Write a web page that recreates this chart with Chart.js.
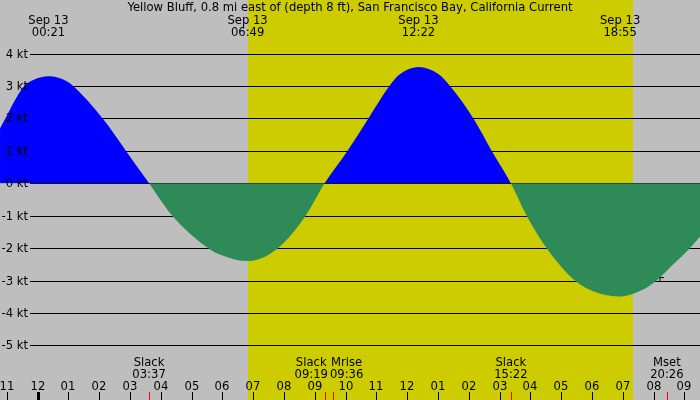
<!DOCTYPE html>
<html>
<head>
<meta charset="utf-8">
<script src="https://cdn.jsdelivr.net/npm/chart.js@4/dist/chart.umd.min.js"></script>
<style>
  html, body { margin: 0; padding: 0; background: #bebebe; }
  #wrap { width: 700px; height: 400px; }
</style>
</head>
<body>
<div id="wrap"><canvas id="grafico" width="700" height="400"></canvas></div>
<script>
// current speed (kt), time in hours since midnight Sep 13
const curveTimes = [
  -1.224, -0.44, -0.143, 0.36, 0.942, 1.156, 2.11, 2.868, 3.617,
  4.37, 5.54, 5.98, 6.817, 7.8, 8.70, 9.317,
  10.06, 10.74, 11.42, 11.77, 12.38, 13.01, 13.39, 14.15, 14.745, 15.367,
  15.88, 16.53, 17.45, 18.04, 18.85, 19.72, 20.10, 20.64, 21.18, 21.51,
];
const curveValues = [
  1.69, 3.0, 3.19, 3.3, 3.15, 3.0, 2.0, 1.0, 0,
  -1.0, -2.0, -2.22, -2.40, -2.0, -1.0, 0,
  1.0, 2.0, 3.0, 3.37, 3.59, 3.37, 3.0, 2.0, 1.0, 0,
  -1.0, -2.0, -3.0, -3.33, -3.49, -3.25, -3.0, -2.5, -2.0, -1.64,
];

const yTicks = [4, 3, 2, 1, 0, -1, -2, -3, -4, -5];
const hourTicks = [-1, 0, 1, 2, 3, 4, 5, 6, 7, 8, 9, 10, 11, 12, 13, 14, 15, 16, 17, 18, 19, 20, 21];
const hourLabels = ["11", "12", "01", "02", "03", "04", "05", "06", "07", "08", "09", "10", "11", "12", "01", "02", "03", "04", "05", "06", "07", "08", "09"];

const titulo = "Yellow Bluff, 0.8 mi east of (depth 8 ft), San Francisco Bay, California Current";
const topDate = "Sep 13";
const topTimes = ["00:21", "06:49", "12:22", "18:55"];
const bottomNames = ["Slack", "Slack", "Mrise", "Slack", "Mset"];
const bottomTimes = ["03:37", "09:19", "09:36", "15:22", "20:26"];

const sunrise = 6.83;
const sunset = 19.33;
const markerTime = 20.21;
const markerValue = -2.91;

function horas(hhmm) {
  const [h, m] = hhmm.split(":").map(Number);
  return h + m / 60;
}

const FONTE = "11.6px 'DejaVu Sans'";

// spread labels that overlap so they sit side by side
function espalhar(ctx, itens) {
  itens.forEach((it) => (it.w = Math.max(...it.linhas.map((l) => ctx.measureText(l).width))));
  for (let i = 1; i < itens.length; i++) {
    const a = itens[i - 1], b = itens[i];
    const overlap = (a.x + a.w / 2) - (b.x - b.w / 2) + 2;
    if (overlap > 0) {
      a.x -= overlap / 2;
      b.x += overlap / 2;
    }
  }
}

const fundoPlugin = {
  id: "fundo",
  beforeDraw(chart) {
    const { ctx, width, height } = chart;
    const xs = chart.scales.x;
    ctx.save();
    ctx.fillStyle = "#bebebe";
    ctx.fillRect(0, 0, width, height);
    const x1 = Math.round(xs.getPixelForValue(sunrise));
    const x2 = Math.round(xs.getPixelForValue(sunset));
    ctx.fillStyle = "#cccc00";
    ctx.fillRect(x1, 0, x2 - x1, height);
    ctx.restore();
  },
  beforeDatasetsDraw(chart) {
    const { ctx, width } = chart;
    const ys = chart.scales.y;
    ctx.save();
    ctx.strokeStyle = "#000";
    ctx.lineWidth = 1;
    yTicks.forEach((v) => {
      const y = Math.round(ys.getPixelForValue(v)) + 0.5;
      ctx.beginPath();
      ctx.moveTo(30, y);
      ctx.lineTo(width, y);
      ctx.stroke();
    });
    ctx.restore();
  },
  afterDatasetsDraw(chart) {
    const { ctx, width, height } = chart;
    const xs = chart.scales.x;
    const ys = chart.scales.y;
    ctx.save();
    ctx.font = FONTE;
    ctx.fillStyle = "#000";

    // y labels
    ctx.textAlign = "right";
    ctx.textBaseline = "middle";
    yTicks.forEach((v) => {
      ctx.fillText(v + " kt", 28, Math.round(ys.getPixelForValue(v)) + 0.5);
    });

    // title
    ctx.textAlign = "center";
    ctx.textBaseline = "alphabetic";
    ctx.fillText(titulo, width / 2, 11);

    // top events
    const topo = topTimes.map((t) => ({ x: xs.getPixelForValue(horas(t)), linhas: [topDate, t] }));
    espalhar(ctx, topo);
    topo.forEach((it) => {
      ctx.fillText(it.linhas[0], it.x, 24);
      ctx.fillText(it.linhas[1], it.x, 36);
    });

    // bottom events
    const baixo = bottomTimes.map((t, i) => ({ x: xs.getPixelForValue(horas(t)), linhas: [bottomNames[i], t] }));
    espalhar(ctx, baixo);
    baixo.forEach((it) => {
      ctx.fillText(it.linhas[0], it.x, 366);
      ctx.fillText(it.linhas[1], it.x, 378);
    });

    // hour labels and ticks
    hourTicks.forEach((h, i) => {
      const x = Math.round(xs.getPixelForValue(h));
      ctx.fillText(hourLabels[i], x, 390);
      if (h === 0) ctx.fillRect(x - 1, 392, 3, height - 392);
      else ctx.fillRect(x, 392, 1, height - 392);
    });

    // event ticks in red
    ctx.fillStyle = "#ff0000";
    bottomTimes.forEach((t) => {
      const x = Math.round(xs.getPixelForValue(horas(t)));
      ctx.fillRect(x, 392, 1, height - 392);
    });
    ctx.restore();
  },
};

const pontos = curveTimes.map((t, i) => ({ x: t, y: curveValues[i] }));

new Chart(document.getElementById("grafico"), {
  type: "line",
  data: {
    datasets: [
      {
        data: pontos,
        borderWidth: 0,
        borderColor: "rgba(0,0,0,0)",
        pointRadius: 0,
        cubicInterpolationMode: "monotone",
        fill: { target: "origin", above: "#0000ff", below: "#2e8b57" },
      },
      {
        data: [{ x: markerTime, y: markerValue }],
        showLine: false,
        pointStyle: "cross",
        pointRadius: 4,
        borderColor: "#000",
        borderWidth: 1,
        fill: false,
      },
    ],
  },
  options: {
    responsive: false,
    animation: false,
    devicePixelRatio: 1,
    layout: { padding: 0, autoPadding: false },
    plugins: { legend: { display: false }, tooltip: { enabled: false } },
    scales: {
      x: { type: "linear", min: -1.2244, max: 21.51, display: false },
      y: { type: "linear", min: -6.686, max: 5.656, display: false },
    },
  },
  plugins: [fundoPlugin],
});
</script>
</body>
</html>
